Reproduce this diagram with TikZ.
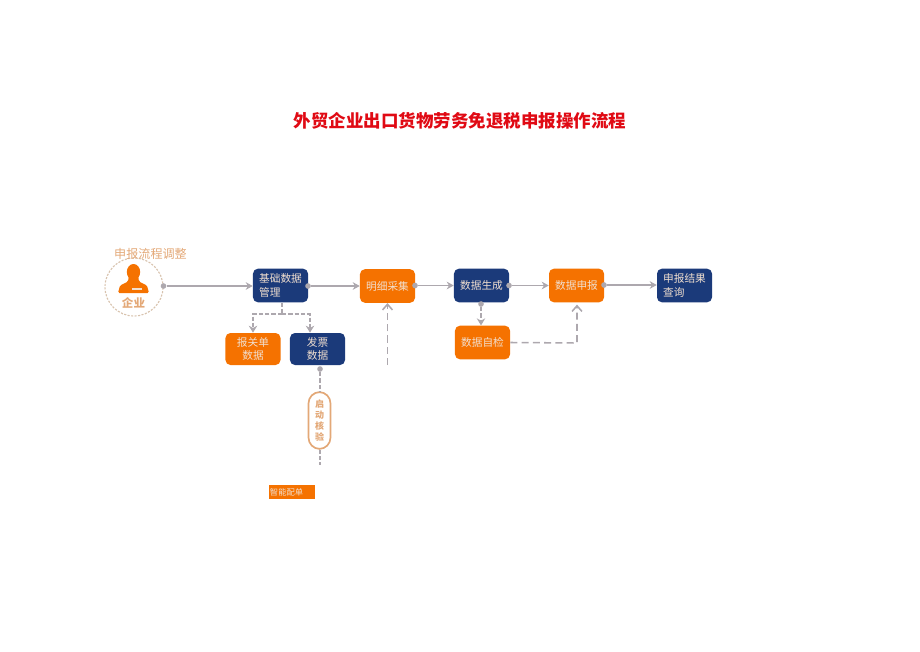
\documentclass[tikz,border=0pt]{standalone}
\usepackage{fontspec}
\usepackage{xcolor}
\usepackage{tikz}
\setmainfont{Noto Sans CJK SC}
\definecolor{flowNavy}{HTML}{1B3A7A}
\definecolor{flowOrange}{HTML}{F57200}
\definecolor{flowRed}{HTML}{E00A14}
\definecolor{flowLine}{HTML}{ADA8AE}
\definecolor{flowPeach}{HTML}{E3A877}
\definecolor{flowRing}{HTML}{D8C3AE}
\definecolor{flowText}{HTML}{F1DFCF}
\usetikzlibrary{arrows.meta,positioning,shapes.geometric,calc}

\begin{document}
\begin{tikzpicture}[
  x=0.025cm, y=-0.025cm,
  font=\fontsize{7.6pt}{9.6pt}\selectfont,
  navybox/.style={draw=none, rounded corners=3.5pt, fill=flowNavy, text=flowText, minimum width=1.375cm, minimum height=0.84cm, inner sep=0pt, align=left},
  orangebox/.style={navybox, fill=flowOrange, align=center},
  flow/.style={line width=1.2pt, flowLine, -{Stealth[length=5pt,width=5.5pt]}},
  side/.style={line width=1.1pt, flowLine, dash pattern=on 3pt off 1.5pt, -{Stealth[length=5pt,width=6pt]}},
  open/.style={line width=1.1pt, flowLine, dash pattern=on 5pt off 3pt, -{Straight Barb[length=4pt,width=7pt]}},
  stub/.style={line width=1.2pt, flowLine, dash pattern=on 3pt off 1.5pt},
  dotnode/.style={circle, fill=flowLine, minimum size=4pt, inner sep=0pt}
]
\useasboundingbox (0,0) rectangle (920,651);

% Title
\node[font=\fontsize{12.45pt}{14pt}\selectfont\bfseries, text=flowRed] (title) at (460,121) {外贸企业出口货物劳务免退税申报操作流程};

% Company badge
\node[circle, draw=flowRing, dash pattern=on 1.5pt off 1pt, line width=0.8pt, minimum size=1.45cm, inner sep=0pt] (badge) at (134,287) {};
\node[text=flowPeach, font=\fontsize{8.6pt}{10pt}\selectfont] (adjust) at (150.5,253.5) {申报流程调整};
\node[text=flowPeach, font=\fontsize{8.2pt}{10pt}\selectfont\bfseries] (company) at (133.5,303) {企业};
\fill[flowOrange] (133.5,272) ellipse (6.7 and 8);
\fill[flowOrange, rounded corners=1pt] (118,293) -- (120,285.5) -- (128,281.5) -- (129,275) -- (138,275) -- (139,281.5) -- (147,285.5) -- (149,293) -- cycle;
\fill[flowText] (132,288) rectangle (142,290);

% Main row
\node[navybox] (base) at (280.5,285.5) {基础数据\\管理};
\node[orangebox] (detail) at (387.5,286) {明细采集};
\node[navybox] (generate) at (481.5,285.5) {数据生成};
\node[orangebox] (declare) at (576.5,285.5) {数据申报};
\node[navybox] (result) at (684.5,285.5) {申报结果\\查询};

% Second row
\node[orangebox, minimum height=0.8cm] (customs) at (253,349) {报关单\\数据};
\node[navybox, minimum height=0.8cm, align=center] (invoice) at (317.5,349) {发票\\数据};
\node[orangebox] (check) at (482.5,342.5) {数据自检};
\node[draw=flowPeach, line width=1.2pt, rounded corners=8pt, fill=white, text=flowPeach, minimum width=0.55cm, minimum height=1.42cm, inner sep=0pt, align=center, font=\fontsize{6.4pt}{7.9pt}\selectfont\bfseries] (pill) at (319.5,420.5) {启\\动\\核\\验};
\node[fill=flowOrange, text=flowText, text width=1.1cm, minimum width=1.15cm, minimum height=0.35cm, inner xsep=1pt, inner ysep=0pt, align=left, font=\fontsize{5.9pt}{7pt}\selectfont] (match) at (292,492) {智能配单};

% Dots on the box edges
\node[dotnode] (d0) at (163.5,286) {};
\node[dotnode] (d1) at (308,286) {};
\node[dotnode] (d2) at (415,285.5) {};
\node[dotnode] (d3) at (509,285.5) {};
\node[dotnode] (d4) at (604,285) {};
\node[dotnode] (d5) at (481,304) {};
\node[dotnode] (d6) at (320,369) {};

% Free ends
\coordinate (split) at (282,314);
\coordinate (splitL) at (253,314);
\coordinate (splitR) at (310,314);
\coordinate (detailEnd) at (387.5,365);
\coordinate (pillEnd) at (320,465);
\coordinate (corner) at (577,343);

% Main flow
\draw[flow] (d0) -- (base.west |- d0);
\draw[flow] (d1) -- (detail.west |- d1);
\draw[flow] (d2) -- (generate.west |- d2);
\draw[flow] (d3) -- (declare.west |- d3);
\draw[flow] (d4) -- (result.west |- d4);

% Dashed branches
\draw[stub] (base.south -| split) -- (split);
\draw[side] (split) -- (splitL) -- (customs.north -| splitL);
\draw[side] (split) -- (splitR) -- (invoice.north -| splitR);
\draw[side] (d5) -- (check.north -| d5);
\draw[open] (detailEnd) -- (detail.south);
\draw[open] (check.east) -- (corner) -- ($(declare.south)+(0.5,2)$);
\draw[stub] (d6) -- (pill.north -| d6);
\draw[stub] (pill.south -| pillEnd) -- (pillEnd);

\end{tikzpicture}
\end{document}
